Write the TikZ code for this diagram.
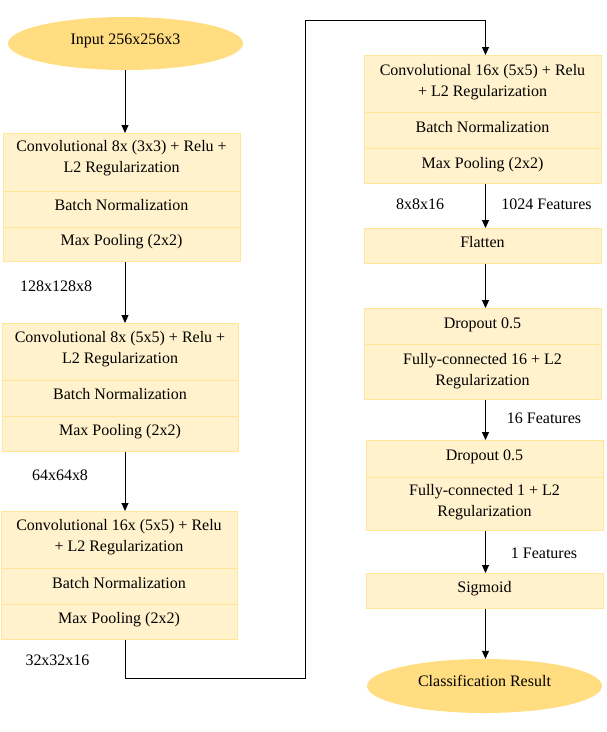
\documentclass[tikz,border=0pt]{standalone}
\usepackage{fontspec}
\setmainfont{LiberationSerif}[Extension=.ttf,UprightFont=*-Regular,BoldFont=*-Bold]
\usetikzlibrary{shapes.geometric,arrows.meta}
\definecolor{segfill}{HTML}{FFF2CC}
\definecolor{segline}{HTML}{FFE699}
\definecolor{ellfill}{HTML}{FFDD80}
\newcommand\fs{\fontsize{16}{21}\selectfont}
\begin{document}
\begin{tikzpicture}[x=1pt,y=-1pt,
  seg/.style n args={2}{draw=segline, fill=segfill, line width=0.8pt, inner sep=0pt,
    anchor=north west, minimum width=#1, minimum height=#2},
  txt/.style={font=\fs, align=center, inner sep=0pt},
  one/.style={font=\fs, inner sep=0pt, text height=11pt, text depth=3.5pt},
  term/.style={ellipse, fill=ellfill, inner sep=0pt, minimum width=235pt, minimum height=53pt,
    font=\fs, text height=11pt, text depth=10pt},
  arr/.style={-{Triangle[length=8pt,width=7pt]}, line width=1pt},
]
\useasboundingbox (0,0) rectangle (606,732);
\coordinate (colL) at (125,0);
\coordinate (colR) at (485.5,0);
\coordinate (cA) at (305,678);
\coordinate (cB) at (305,20);

% input
\node[term] (in) at (125.5,43.5) {Input 256x256x3};

% block 1
\node[seg={237pt}{58pt}] (b1a) at (3,133) {};
\node[seg={237pt}{36pt}] (b1b) at (3,191) {};
\node[seg={237pt}{34pt}] (b1c) at (3,227) {};
\node[txt] (t1a) at (121.5,158) {Convolutional 8x (3x3) + Relu +\\L2 Regularization};
\node[one] (t1b) at (121.5,206.5) {Batch Normalization};
\node[one] (t1c) at (121.5,241.5) {Max Pooling (2x2)};

% block 2
\node[seg={236pt}{57pt}] (b2a) at (2,323) {};
\node[seg={236pt}{36pt}] (b2b) at (2,380) {};
\node[seg={236pt}{35pt}] (b2c) at (2,416) {};
\node[txt] (t2a) at (120,349) {Convolutional 8x (5x5) + Relu +\\L2 Regularization};
\node[one] (t2b) at (120,395.5) {Batch Normalization};
\node[one] (t2c) at (120,431.5) {Max Pooling (2x2)};

% block 3
\node[seg={236pt}{57pt}] (b3a) at (1,511) {};
\node[seg={236pt}{36pt}] (b3b) at (1,568) {};
\node[seg={236pt}{35pt}] (b3c) at (1,604) {};
\node[txt] (t3a) at (119,537) {Convolutional 16x (5x5) + Relu\\+ L2 Regularization};
\node[one] (t3b) at (119,584.5) {Batch Normalization};
\node[one] (t3c) at (119,619.5) {Max Pooling (2x2)};

% block 4
\node[seg={237pt}{57pt}] (b4a) at (364,55) {};
\node[seg={237pt}{36pt}] (b4b) at (364,112) {};
\node[seg={237pt}{35pt}] (b4c) at (364,148) {};
\node[txt] (t4a) at (482.5,82) {Convolutional 16x (5x5) + Relu\\+ L2 Regularization};
\node[one] (t4b) at (482.5,128.5) {Batch Normalization};
\node[one] (t4c) at (482.5,164.5) {Max Pooling (2x2)};

% flatten
\node[seg={237pt}{35pt}] (fl) at (364,228) {};
\node[one] (tfl) at (482.5,243.5) {Flatten};

% block 5
\node[seg={237pt}{36pt}] (b5a) at (364,308) {};
\node[seg={237pt}{55pt}] (b5b) at (364,344) {};
\node[one] (t5a) at (482.5,324.5) {Dropout 0.5};
\node[txt] (t5b) at (482.5,371.5) {Fully-connected 16 + L2\\Regularization};

% block 6
\node[seg={237pt}{37pt}] (b6a) at (366,440) {};
\node[seg={237pt}{53pt}] (b6b) at (366,477) {};
\node[one] (t6a) at (484.5,456.5) {Dropout 0.5};
\node[txt] (t6b) at (484.5,502) {Fully-connected 1 + L2\\Regularization};

% sigmoid
\node[seg={237pt}{35pt}] (sg) at (366,573) {};
\node[one] (tsg) at (484.5,588.5) {Sigmoid};

% output
\node[term, minimum height=54pt] (out) at (484.5,686) {Classification Result};

% size labels
\node[one] (l1) at (56,287.5) {128x128x8};
\node[one] (l2) at (60,477) {64x64x8};
\node[one] (l3) at (57.5,661.5) {32x32x16};
\node[one] (l4) at (420,205.5) {8x8x16};
\node[one] (l5) at (546.5,205.5) {1024 Features};
\node[one] (l6) at (544,420) {16 Features};
\node[one] (l7) at (544,555) {1 Features};

% connectors
\draw[arr] (in.south -| colL) -- (b1a.north -| colL);
\draw[arr] (b1c.south -| colL) -- (b2a.north -| colL);
\draw[arr] (b2c.south -| colL) -- (b3a.north -| colL);
\draw[arr] (b3c.south -| colL) |- (cA) -- (cB) -| (b4a.north -| colR);
\draw[arr] (b4c.south -| colR) -- (fl.north -| colR);
\draw[arr] (fl.south -| colR) -- (b5a.north -| colR);
\draw[arr] (b5b.south -| colR) -- (b6a.north -| colR);
\draw[arr] (b6b.south -| colR) -- (sg.north -| colR);
\draw[arr] (sg.south -| colR) -- (out.north -| colR);
\end{tikzpicture}
\end{document}
